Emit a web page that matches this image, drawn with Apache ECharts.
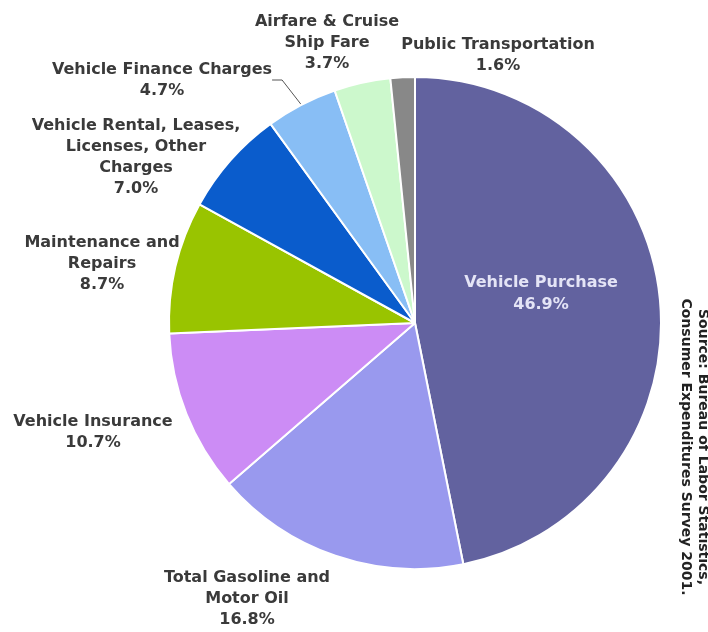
<!DOCTYPE html>
<html><head><meta charset="utf-8">
<script src="https://cdn.jsdelivr.net/npm/echarts@6/dist/echarts.min.js"></script>
<style>html,body{margin:0;padding:0;background:#fff}#c{width:708px;height:632px}</style>
</head><body><div id="c"></div>
<script>
const categories = [
  "Vehicle Purchase",
  "Total Gasoline and\nMotor Oil",
  "Vehicle Insurance",
  "Maintenance and\nRepairs",
  "Vehicle Rental, Leases,\nLicenses, Other\nCharges",
  "Vehicle Finance Charges",
  "Airfare & Cruise\nShip Fare",
  "Public Transportation"
];
const shares = [46.9, 16.8, 10.7, 8.7, 7.0, 4.7, 3.7, 1.6];
const colors = ["#62629f", "#9999ee", "#cc8cf5", "#99c400", "#0a5ccc", "#88bef5", "#ccf8cc", "#888888"];
const sourceNote = "Source: Bureau of Labor Statistics,\nConsumer Expenditures Survey 2001.";

// label block centre (x, y) per slice, in pixels
const labelPos = [
  [541, 294], [247, 599], [93, 432], [102, 264], [136, 157], [162, 80], [327, 43], [498, 55]
];

const chart = echarts.init(document.getElementById('c'));
const font = {fontFamily: 'DejaVu Sans', fontSize: 16, fontWeight: 'bold', color: '#3a3a3a', lineHeight: 21, align: 'center', overflow: 'none'};
chart.setOption({
  animation: false,
  series: [{
    type: 'pie',
    center: [415, 323],
    radius: [0, 246],
    startAngle: 90,
    clockwise: true,
    itemStyle: {borderColor: '#fff', borderWidth: 2},
    label: Object.assign({show: true, position: 'outside', formatter: p => p.name + '\n' + p.value.toFixed(1) + '%'}, font),
    labelLine: {show: false},
    labelLayout: function (p) {
      const pos = labelPos[p.dataIndex];
      return {x: pos[0], y: pos[1], align: 'center', verticalAlign: 'middle'};
    },
    data: categories.map((c, i) => {
      const d = {name: c, value: shares[i], itemStyle: {color: colors[i]}};
      if (i === 0) d.label = {position: 'inside', color: '#e4e4f6', lineHeight: 22};
      if (i === 5) d.labelLine = {show: true, length: 24, length2: 10, lineStyle: {color: '#555', width: 1}};
      return d;
    })
  }],
  graphic: [{
    type: 'text',
    x: 694, y: 447,
    rotation: -Math.PI / 2,
    style: {text: sourceNote, fill: '#222', font: 'bold 14px DejaVu Sans', align: 'center', verticalAlign: 'middle', lineHeight: 17}
  }]
});
</script></body></html>
